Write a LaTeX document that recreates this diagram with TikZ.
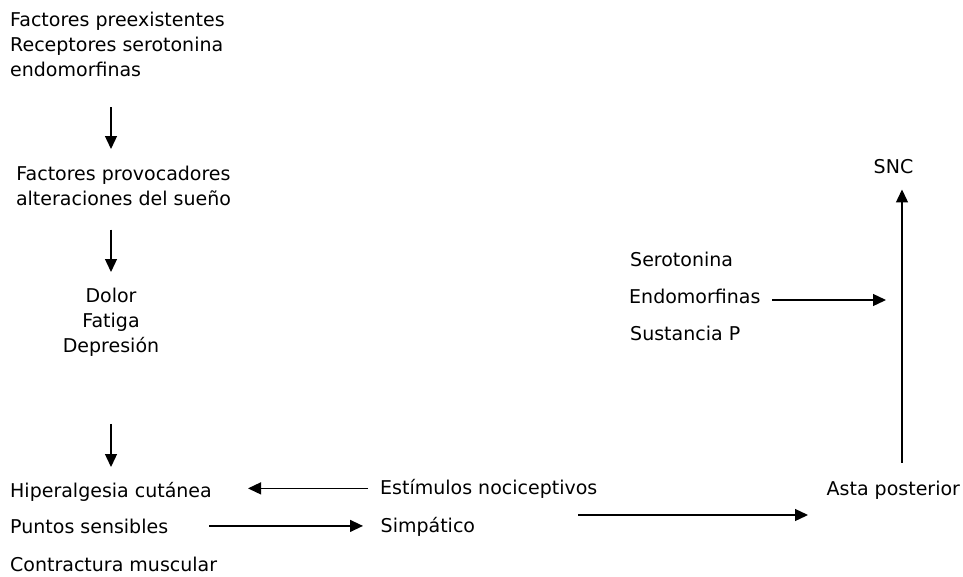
\documentclass[tikz,border=0pt]{standalone}
\usepackage{fontspec}
\setmainfont{DejaVu Sans}
\usetikzlibrary{arrows.meta,positioning,calc}

\begin{document}
\begin{tikzpicture}[
  x=1pt, y=-1pt,
  txt/.style={inner sep=0pt, font=\fontsize{19}{25}\selectfont},
  arr/.style={-{Triangle[length=13pt,width=12pt]}, line width=1.3pt},
]
\useasboundingbox (0,0) rectangle (963,576);
% left column
\node[txt, align=left, anchor=north west] (pre) at (10,12)
  {Factores preexistentes\\Receptores serotonina\\endomorfinas};
\node[txt, align=center, anchor=north] (prov) at (123.5,165.6)
  {Factores provocadores\\alteraciones del sueño};
\node[txt, align=center, anchor=north] (dol) at (111,287.6)
  {Dolor\\Fatiga\\Depresión};
\node[txt, anchor=base west] (hip) at (10,497) {Hiperalgesia cutánea};
\node[txt, anchor=base west] (pun) at (10,533) {Puntos sensibles};
\node[txt, anchor=base west] (con) at (10,571) {Contractura muscular};
% middle
\node[txt, anchor=base west] (est) at (380,494) {Estímulos nociceptivos};
\node[txt, anchor=base west] (simp) at (380.5,532) {Simpático};
\node[txt, anchor=base west] (ser) at (630,266) {Serotonina};
\node[txt, anchor=base west] (endo) at (629,303) {Endomorfinas};
\node[txt, anchor=base west] (sus) at (630,340) {Sustancia P};
% right
\node[txt, anchor=base west] (asta) at (826.5,495) {Asta posterior};
\node[txt, anchor=base] (snc) at (893.5,173) {SNC};
\coordinate (eje) at ([xshift=8.5pt]snc.south);
\coordinate (sal) at (578,515);

\draw[arr, shorten <=30pt, shorten >=16.6pt] (pre.south -| dol.north) -- (prov.north -| dol.north);
\draw[arr, shorten <=24pt, shorten >=15.6pt] (prov.south -| dol.north) -- (dol.north);
\draw[arr, shorten <=67.5pt, shorten >=14.6pt] (dol.south) -- (dol.south |- hip.north);
\draw[arr, shorten <=12pt, shorten >=36pt] (est.west) -- (est.west -| hip.east);
\draw[arr, shorten <=41pt, shorten >=17.5pt] (pun.east) -- (pun.east -| simp.west);
\draw[arr, shorten >=18.5pt] (sal) -- (sal -| asta.west);
\draw[arr, shorten <=17.6pt, shorten >=16pt] (eje |- asta.north) -- (eje);
\draw[arr, shorten <=11.7pt, shorten >=16pt] ([yshift=3pt]endo.base east) -- ([yshift=3pt]endo.base east -| eje);
\end{tikzpicture}
\end{document}
